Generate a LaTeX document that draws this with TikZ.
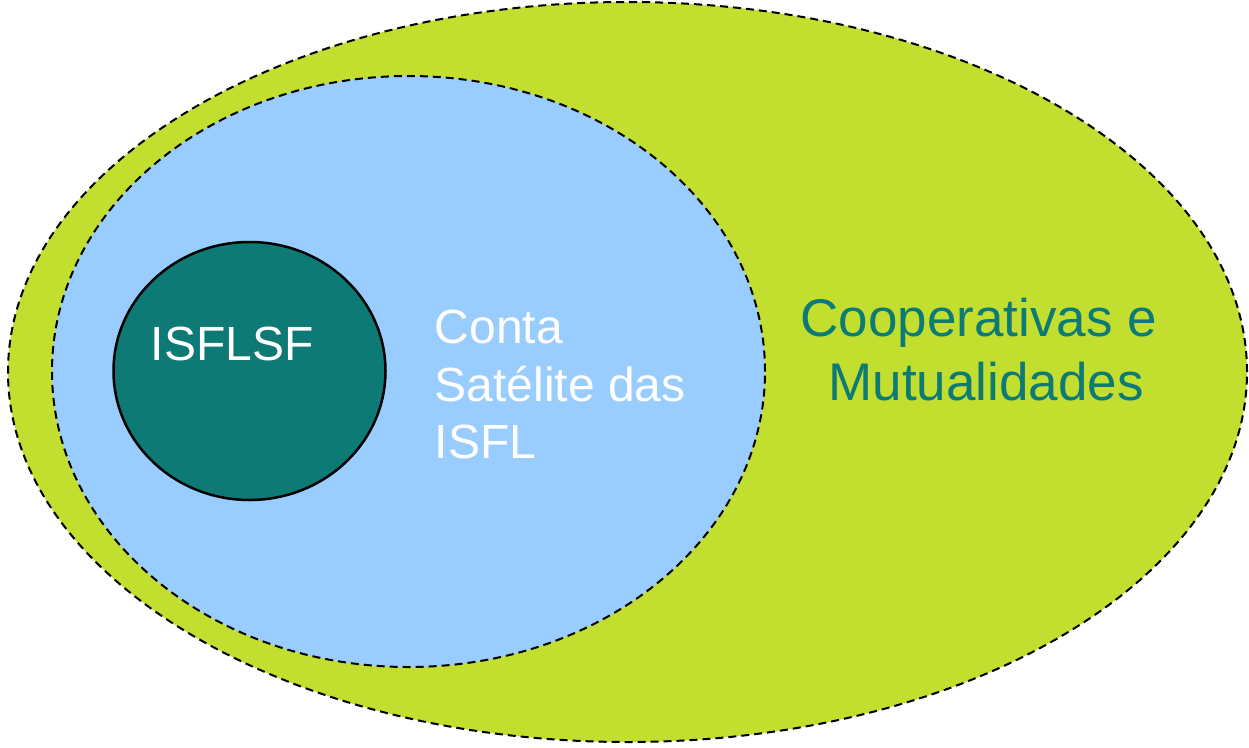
\documentclass[tikz,border=0pt]{standalone}
\usepackage{fontspec}
\setmainfont{Liberation Sans}
\usetikzlibrary{shapes,shapes.geometric,positioning}

\definecolor{coopgreen}{HTML}{C2DE2E}
\definecolor{contablue}{HTML}{99CCFF}
\definecolor{isflteal}{HTML}{0D7A75}

\begin{document}
\begin{tikzpicture}[%
x=1pt, y=-1pt,
set/.style={ellipse, draw=black, inner sep=0pt, line width=2pt},
dashedset/.style={set, dash pattern=on 8pt off 5pt},
lbl/.style={inner sep=0pt, font=\fontsize{48}{57.6}\selectfont},
biglbl/.style={inner sep=0pt, font=\fontsize{53}{64}\selectfont}
]
\useasboundingbox (0,0) rectangle (1249,747);

% nested sets
\node[dashedset, fill=coopgreen, minimum width=1239pt, minimum height=740pt] (coop) at (627.5,372) {};
\node[dashedset, fill=contablue, minimum width=713pt, minimum height=591pt] (csisfl) at (408.5,371.5) {};
\node[set, fill=isflteal, line width=2.5pt, minimum width=272pt, minimum height=258pt] (isflsf) at (249.5,371) {};

% labels
\node[lbl, white, anchor=base west] (isflsflbl) at (150.5,360) {ISFLSF};
\node[lbl, white, anchor=north west, align=left] (csisfllbl) at (434.5,310)
     {Conta\\Satélite das\\ISFL};
\node[biglbl, isflteal, anchor=north, align=center] (cooplbl) at (986,298)
     {Cooperativas e\rule{0.28em}{0pt}\\Mutualidades};

\end{tikzpicture}
\end{document}
